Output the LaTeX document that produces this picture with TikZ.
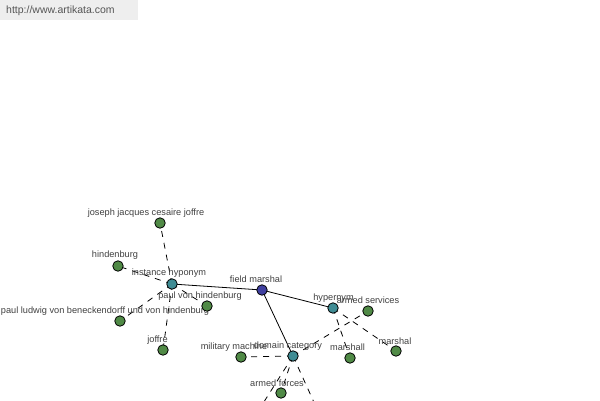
\documentclass[tikz,border=0pt]{standalone}
\usepackage{fontspec}
\setmainfont{Liberation Sans}
\begin{document}
\begin{tikzpicture}[x=1pt,y=-1pt,
  dot/.style={circle,draw=black,line width=0.8pt,minimum size=10.5pt,inner sep=0pt},
  leaf/.style={dot,fill=leafgreen},
  rel/.style={dot,fill=relteal},
  hub/.style={dot,fill=hubblue},
  lbl/.style={font=\fontsize{9.2}{10}\selectfont,text=lbltext,inner sep=0pt,anchor=center,yshift=-1pt},
  solidedge/.style={draw=black,line width=0.8pt},
  dashedge/.style={draw=black,line width=0.8pt,dash pattern=on 6pt off 6pt}]
\definecolor{leafgreen}{HTML}{508A46}
\definecolor{relteal}{HTML}{3F8C94}
\definecolor{hubblue}{HTML}{4040A0}
\definecolor{lbltext}{HTML}{404040}
\definecolor{headbg}{HTML}{EEEEEE}
\definecolor{headtext}{HTML}{555555}
\useasboundingbox (0,0) rectangle (600,400);
\clip (0,0) rectangle (600,400);
% header
\fill[headbg] (0,0) rectangle (138,20);
\node[font=\fontsize{10.5}{12}\selectfont,text=headtext,anchor=west,inner sep=0pt] (url) at (6,11) {http://www.artikata.com};
% node positions
\coordinate (fmP) at (262,290);
\coordinate (ihP) at (172,284);
\coordinate (hyP) at (333,308);
\coordinate (dcP) at (293,356);
\coordinate (off1) at (255,416);
\coordinate (off2) at (322,420);
% edges first (behind nodes)
\draw[dashedge] (ihP) -- (160,223);
\draw[dashedge] (ihP) -- (118,266);
\draw[dashedge] (ihP) -- (207,306);
\draw[dashedge] (ihP) -- (120,321);
\draw[dashedge] (ihP) -- (163,350);
\draw[dashedge] (hyP) -- (396,351);
\draw[dashedge] (hyP) -- (350,358);
\draw[dashedge] (dcP) -- (368,311);
\draw[dashedge] (dcP) -- (241,357);
\draw[dashedge] (dcP) -- (281,393);
\draw[dashedge] (dcP) -- (off1);
\draw[dashedge] (dcP) -- (off2);
\draw[solidedge] (fmP) -- (ihP);
\draw[solidedge] (fmP) -- (hyP);
\draw[solidedge] (fmP) -- (dcP);
% labels
\node[lbl] (l-fm) at (256,278) {field marshal};
\node[lbl] (l-ih) at (169,272.5) {instance hyponym};
\node[lbl] (l-hy) at (333.5,297) {hypernym};
\node[lbl] (l-dc) at (288,345) {domain category};
\node[lbl] (l-jj) at (146,212.5) {joseph jacques cesaire joffre};
\node[lbl] (l-hb) at (115,254.5) {hindenburg};
\node[lbl] (l-pvh) at (200,295.5) {paul von hindenburg};
\node[lbl] (l-pl) at (105,310) {paul ludwig von beneckendorff und von hindenburg};
\node[lbl] (l-jo) at (157.5,339.5) {joffre};
\node[lbl] (l-as) at (368,299.5) {armed services};
\node[lbl] (l-msl) at (395,340) {marshal};
\node[lbl] (l-mall) at (347.5,346.5) {marshall};
\node[lbl] (l-mm) at (234,346) {military machine};
\node[lbl] (l-af) at (277,382) {armed forces};
% nodes
\node[hub] (fm) at (fmP) {};
\node[rel] (ih) at (ihP) {};
\node[rel] (hy) at (hyP) {};
\node[rel] (dc) at (dcP) {};
\node[leaf] (jj) at (160,223) {};
\node[leaf] (hb) at (118,266) {};
\node[leaf] (pvh) at (207,306) {};
\node[leaf] (pl) at (120,321) {};
\node[leaf] (jo) at (163,350) {};
\node[leaf] (as) at (368,311) {};
\node[leaf] (msl) at (396,351) {};
\node[leaf] (mall) at (350,358) {};
\node[leaf] (mm) at (241,357) {};
\node[leaf] (af) at (281,393) {};
\end{tikzpicture}
\end{document}
